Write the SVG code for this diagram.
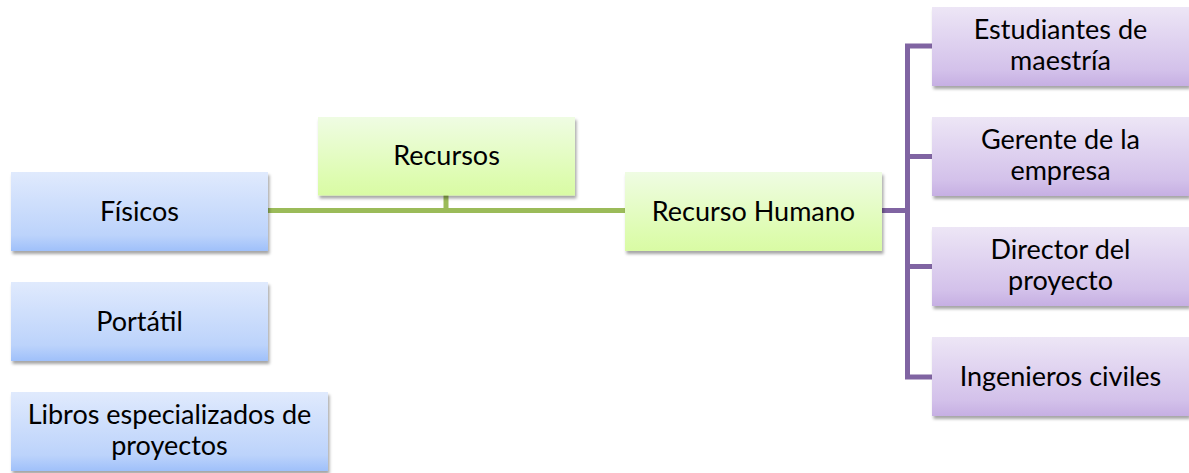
<svg xmlns="http://www.w3.org/2000/svg" width="1189" height="473" viewBox="0 0 1189 473">
<style>
.t{font-family:Lato,"Liberation Sans",sans-serif;font-size:27px;font-weight:400;fill:#000;text-anchor:middle}
.blue{fill:url(#gb);filter:url(#sh)}
.green{fill:url(#gg);filter:url(#sh)}
.purple{fill:url(#gp);filter:url(#sh)}
.lg{stroke:#9bbb59;stroke-width:5;fill:none}
.lp{stroke:#8064a2;stroke-width:5;fill:none}
</style>
<defs>
<linearGradient id="gb" x1="0" y1="0" x2="0" y2="1"><stop offset="0" stop-color="#e0eafd"/><stop offset="0.8" stop-color="#bcd3fb"/><stop offset="1" stop-color="#9fc0fa"/></linearGradient>
<linearGradient id="gg" x1="0" y1="0" x2="0" y2="1"><stop offset="0" stop-color="#effce3"/><stop offset="0.8" stop-color="#ddfcaf"/><stop offset="1" stop-color="#d9fba4"/></linearGradient>
<linearGradient id="gp" x1="0" y1="0" x2="0" y2="1"><stop offset="0" stop-color="#ede6f6"/><stop offset="0.8" stop-color="#d3c1ea"/><stop offset="1" stop-color="#c6afe3"/></linearGradient>
<filter id="sh" x="-5%" y="-10%" width="115%" height="130%"><feDropShadow dx="1.5" dy="3" stdDeviation="1.8" flood-color="#000" flood-opacity="0.35"/></filter>
</defs>
<g id="connectors">
<path class="lg" d="M268 210.5 H625"/>
<path class="lg" d="M446 195 V210.5"/>
<path class="lp" d="M882 210.5 H907.5"/>
<path class="lp" d="M932 46 H907.5 V377 H932"/>
<path class="lp" d="M907.5 156.5 H932"/>
<path class="lp" d="M907.5 266.5 H932"/>
</g>
<g id="recursos"><rect class="green" x="318" y="117" width="257" height="78.5"/><text class="t" x="446.5" y="164.5">Recursos</text></g>
<g id="fisicos"><rect class="blue" x="11" y="172" width="257" height="79"/><text class="t" x="139.5" y="220.5">Físicos</text></g>
<g id="portatil"><rect class="blue" x="11" y="282" width="257" height="79"/><text class="t" x="139.5" y="330.5">Portátil</text></g>
<g id="libros"><rect class="blue" x="11" y="392" width="317" height="79"/><text class="t" x="169.5" y="423.5">Libros especializados de</text><text class="t" x="169.5" y="455">proyectos</text></g>
<g id="recurso-humano"><rect class="green" x="625" y="172" width="257" height="79"/><text class="t" x="753.5" y="220.5">Recurso Humano</text></g>
<g id="estudiantes"><rect class="purple" x="932" y="7" width="257" height="79"/><text class="t" x="1060.5" y="38.5">Estudiantes de</text><text class="t" x="1060.5" y="70">maestría</text></g>
<g id="gerente"><rect class="purple" x="932" y="117" width="257" height="79"/><text class="t" x="1060.5" y="148.5">Gerente de la</text><text class="t" x="1060.5" y="180">empresa</text></g>
<g id="director"><rect class="purple" x="932" y="227" width="257" height="79"/><text class="t" x="1060.5" y="258.5">Director del</text><text class="t" x="1060.5" y="290">proyecto</text></g>
<g id="ingenieros"><rect class="purple" x="932" y="337" width="257" height="79"/><text class="t" x="1060.5" y="386">Ingenieros civiles</text></g>
</svg>
